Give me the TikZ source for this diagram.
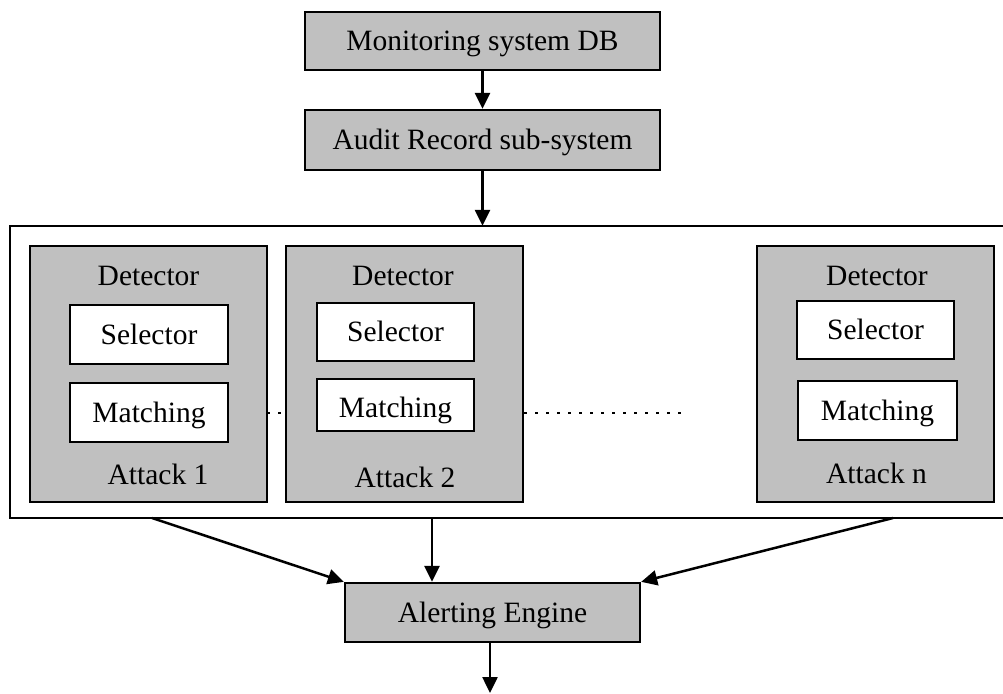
\documentclass[tikz,border=0pt]{standalone}
\usepackage{fontspec}
\setmainfont{Liberation Serif}
\usetikzlibrary{arrows.meta}
\definecolor{boxgray}{RGB}{192,192,192}
\tikzset{
  graybox/.style={draw=black, line width=2.3pt, fill=boxgray, inner sep=0pt,
                  text height=19pt, text depth=0pt},
  whitebox/.style={draw=black, line width=2.3pt, fill=white, inner sep=0pt,
                   text height=19pt, text depth=0pt},
  lbl/.style={inner sep=0pt, text height=19pt, text depth=0pt},
  conn/.style={line width=2.5pt, -{Triangle[length=16pt,width=15pt]}},
  dots/.style={line width=2.5pt, dash pattern=on 2.5pt off 8.5pt},
}
\begin{document}
\begin{tikzpicture}[x=1pt, y=-1pt, font=\fontsize{29.5}{34}\selectfont]
\useasboundingbox (0,0) rectangle (1003,693);

% input chain
\node[graybox, minimum width=355pt, minimum height=58pt] (mon) at (482.5,41) {Monitoring system DB};
\node[graybox, minimum width=355pt, minimum height=60pt] (aud) at (482.5,140) {Audit Record sub-system};

% panel holding the detectors (open on the right)
\node[minimum width=998pt, minimum height=292pt, inner sep=0pt] (panel) at (509,372) {};
\draw[line width=2.5pt] (panel.north east) -- (panel.north west) -- (panel.south west) -- (panel.south east);

% detectors
\node[graybox, minimum width=237pt, minimum height=256pt] (det1) at (148.5,374) {};
\node[graybox, minimum width=237pt, minimum height=256pt] (det2) at (404.5,374) {};
\node[graybox, minimum width=237pt, minimum height=256pt] (detn) at (875.5,374) {};

% dotted continuation between detectors
\coordinate (dotA) at (267,413);
\coordinate (dotB) at (524,413);
\coordinate (dotC) at (685,413);
\draw[dots] (dotA) -- (dotA -| det2.west);
\draw[dots] (dotB) -- (dotC);

\node[lbl] (d1t) at (148.5,276) {Detector};
\node[whitebox, minimum width=158pt, minimum height=59pt] (sel1) at (149,334.5) {Selector};
\node[whitebox, minimum width=158pt, minimum height=59pt] (mat1) at (149,412.5) {Matching};
\node[lbl] (a1t) at (158,475) {Attack 1};

\node[lbl] (d2t) at (403,276) {Detector};
\node[whitebox, minimum width=157pt, minimum height=58pt] (sel2) at (395.5,332) {Selector};
\node[whitebox, minimum width=157pt, minimum height=52pt, text height=31pt, text depth=6pt] (mat2) at (395.5,405) {Matching};
\node[lbl] (a2t) at (405,478) {Attack 2};

\node[lbl] (dnt) at (877,276) {Detector};
\node[whitebox, minimum width=157pt, minimum height=58pt] (seln) at (875.5,330) {Selector};
\node[whitebox, minimum width=159pt, minimum height=59pt] (matn) at (877.5,410.5) {Matching};
\node[lbl] (ant) at (876.5,473.5) {Attack n};

% alerting
\node[graybox, minimum width=295pt, minimum height=59pt] (alert) at (492.5,612.5) {Alerting Engine};

% connectors
\draw[conn] (mon.south) -- (aud.north);
\draw[conn] (aud.south) -- (aud.south |- panel.north);

\coordinate (la) at (152,518);
\coordinate (ma) at (432,518);
\coordinate (ra) at (893,518);
\coordinate (out) at (490,693);
\draw[conn] (la) -- (alert.north west);
\draw[conn] (ma) -- (ma |- alert.north);
\draw[conn] (ra) -- (alert.north east);
\draw[conn] (alert.south -| out) -- (out);
\end{tikzpicture}
\end{document}
